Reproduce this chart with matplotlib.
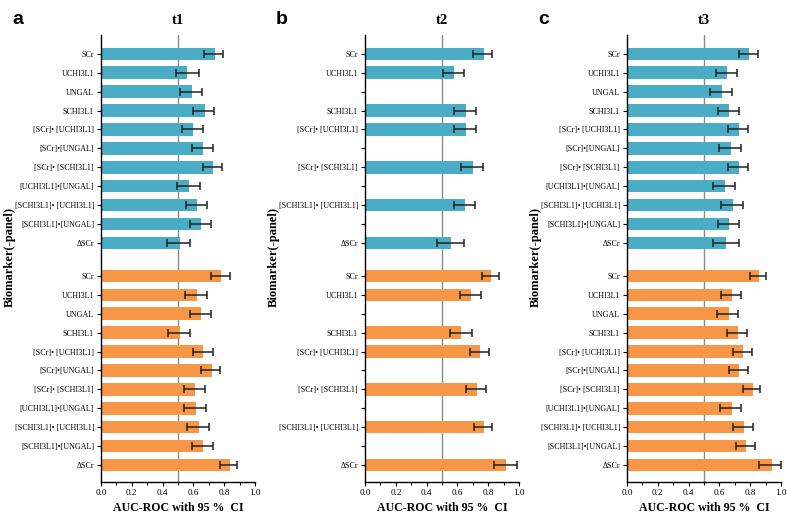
import numpy as np
import matplotlib
matplotlib.use("Agg")
import matplotlib.pyplot as plt
from matplotlib.ticker import MultipleLocator

plt.rcParams['font.family'] = ['Liberation Serif', 'DejaVu Serif']

labels = ['SCr', 'UCHI3L1', 'UNGAL', 'SCHI3L1', '[SCr]• [UCHI3L1]', '[SCr]•[UNGAL]',
          '[SCr]• [SCHI3L1]', '[UCHI3L1]•[UNGAL]', '[SCHI3L1]• [UCHI3L1]',
          '[SCHI3L1]•[UNGAL]', 'ΔSCr']
titles = ['t1', 't2', 't3']
letters = ['a', 'b', 'c']

# AUC and 95% CI, blue (upper) block
t1_blue_auc = [0.74, 0.56, 0.59, 0.675, 0.60, 0.665, 0.73, 0.57, 0.625, 0.65, 0.51]
t1_blue_lo = [0.67, 0.485, 0.51, 0.60, 0.525, 0.59, 0.66, 0.495, 0.55, 0.575, 0.43]
t1_blue_hi = [0.795, 0.635, 0.655, 0.735, 0.665, 0.73, 0.785, 0.64, 0.69, 0.715, 0.575]
t2_blue_auc = [0.77, 0.58, None, 0.655, 0.655, None, 0.70, None, 0.65, None, 0.56]
t2_blue_lo = [0.70, 0.505, None, 0.58, 0.58, None, 0.625, None, 0.575, None, 0.47]
t2_blue_hi = [0.825, 0.645, None, 0.72, 0.72, None, 0.765, None, 0.715, None, 0.645]
t3_blue_auc = [0.795, 0.65, 0.615, 0.665, 0.725, 0.675, 0.725, 0.635, 0.685, 0.665, 0.645]
t3_blue_lo = [0.725, 0.575, 0.54, 0.59, 0.655, 0.60, 0.655, 0.56, 0.61, 0.59, 0.56]
t3_blue_hi = [0.85, 0.715, 0.68, 0.73, 0.785, 0.74, 0.785, 0.70, 0.75, 0.73, 0.725]

# orange (lower) block
t1_orange_auc = [0.78, 0.625, 0.65, 0.51, 0.665, 0.72, 0.61, 0.615, 0.635, 0.66, 0.835]
t1_orange_lo = [0.715, 0.545, 0.58, 0.435, 0.595, 0.65, 0.54, 0.54, 0.56, 0.59, 0.775]
t1_orange_hi = [0.835, 0.69, 0.715, 0.575, 0.73, 0.775, 0.675, 0.68, 0.70, 0.725, 0.885]
t2_orange_auc = [0.82, 0.685, None, 0.625, 0.745, None, 0.725, None, 0.775, None, 0.915]
t2_orange_lo = [0.76, 0.615, None, 0.555, 0.68, None, 0.655, None, 0.705, None, 0.84]
t2_orange_hi = [0.87, 0.75, None, 0.695, 0.805, None, 0.785, None, 0.825, None, 0.99]
t3_orange_auc = [0.855, 0.68, 0.66, 0.72, 0.755, 0.725, 0.815, 0.68, 0.76, 0.775, 0.94]
t3_orange_lo = [0.80, 0.61, 0.585, 0.65, 0.685, 0.66, 0.75, 0.605, 0.69, 0.71, 0.855]
t3_orange_hi = [0.90, 0.74, 0.72, 0.78, 0.81, 0.785, 0.865, 0.74, 0.815, 0.83, 1.0]

panels = [
    (t1_blue_auc, t1_blue_lo, t1_blue_hi, t1_orange_auc, t1_orange_lo, t1_orange_hi),
    (t2_blue_auc, t2_blue_lo, t2_blue_hi, t2_orange_auc, t2_orange_lo, t2_orange_hi),
    (t3_blue_auc, t3_blue_lo, t3_blue_hi, t3_orange_auc, t3_orange_lo, t3_orange_hi),
]

blue = '#4BACC6'
orange = '#F79646'
gap = 11.75

fig = plt.figure(figsize=(7.87, 5.14), dpi=100)
lefts = [0.1283, 0.4638, 0.7967]

def draw_block(ax, auc, lo, hi, offset, color):
    for i in range(len(auc)):
        if auc[i] is None:
            continue
        y = offset + i
        ax.barh(y, auc[i], height=0.67, color=color, zorder=2)
        ax.errorbar(auc[i], y, xerr=[[auc[i] - lo[i]], [hi[i] - auc[i]]], fmt='none',
                    ecolor='#222222', elinewidth=1.1, capsize=2.6, capthick=1.1, zorder=3)

for k, (ba, bl, bh, oa, ol, oh) in enumerate(panels):
    ax = fig.add_axes([lefts[k], 0.0623, 0.1957, 0.8697])
    ax.axvline(0.5, color='#8a8a8a', lw=1.0, zorder=1)
    draw_block(ax, ba, bl, bh, 0, blue)
    draw_block(ax, oa, ol, oh, gap, orange)

    ypos = list(range(11)) + [gap + i for i in range(11)]
    ylab = []
    for vals in (ba, oa):
        for i, v in enumerate(vals):
            ylab.append(labels[i] if v is not None else '')
    ax.set_yticks(ypos)
    ax.set_yticklabels(ylab, fontsize=5.8)
    ax.set_ylim(gap + 10 + 0.9, -1.0)
    ax.set_xlim(0, 1.0)
    ax.set_xticks(np.arange(0, 1.01, 0.2))
    ax.set_xticklabels(['%.1f' % v for v in np.arange(0, 1.01, 0.2)], fontsize=6.6)
    ax.xaxis.set_minor_locator(MultipleLocator(0.1))
    ax.tick_params(axis='both', which='major', length=3, width=0.8, pad=2)
    ax.tick_params(axis='x', which='minor', length=2, width=0.8)
    for s in ['top', 'right']:
        ax.spines[s].set_visible(False)
    for s in ['left', 'bottom']:
        ax.spines[s].set_linewidth(1.0)
    ax.set_xlabel('AUC-ROC with 95 %  CI', fontsize=8.6, fontweight='bold', labelpad=3.5)
    ax.set_title(titles[k], fontsize=10.5, fontweight='bold', pad=8)

    fig.text(lefts[k] - 0.116, 0.5, 'Biomarker(-panel)', rotation=90, fontsize=9,
             fontweight='bold', ha='center', va='center')
    fig.text(lefts[k] - 0.113, 0.962, letters[k], fontsize=14, fontweight='bold',
             family='Liberation Sans', ha='left', va='center')

fig.savefig('out.png', dpi=100)
